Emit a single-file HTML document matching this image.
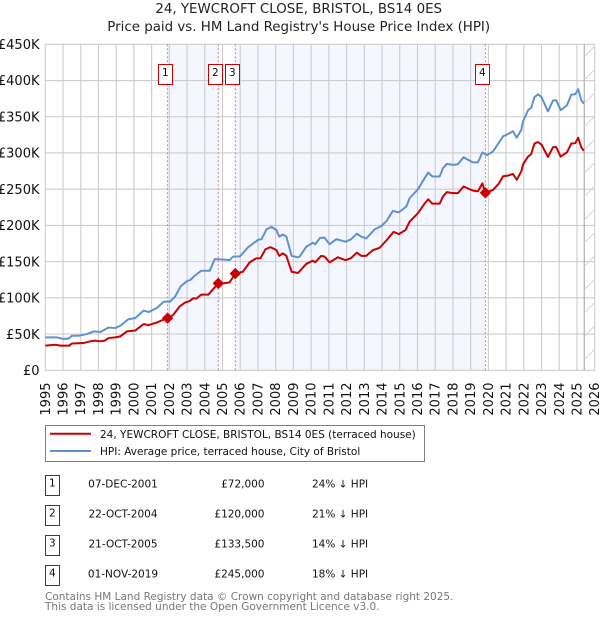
<!DOCTYPE html>
<html lang="en">
<head>
<meta charset="utf-8">
<title>24, Yewcroft Close price chart</title>
<style>
html,body{margin:0;padding:0;background:#fff;width:600px;height:620px;overflow:hidden}
svg{display:block;font-family:"DejaVu Sans","Liberation Sans",sans-serif}
</style>
</head>
<body>
<svg id="chart" xmlns="http://www.w3.org/2000/svg" width="600" height="620" viewBox="0 0 600 620">
  <defs>
    <pattern id="hatch" patternUnits="userSpaceOnUse" width="23.3" height="23.3" patternTransform="translate(11.8 0)">
      <line x1="-2" y1="25.3" x2="25.3" y2="-2" stroke="#d4d4d4" stroke-width="1"/>
    </pattern>
  </defs>
  <text x="298.7" y="13" font-size="13.4" text-anchor="middle" fill="#222">24, YEWCROFT CLOSE, BRISTOL, BS14 0ES</text>
  <text x="298.7" y="31" font-size="13.4" text-anchor="middle" fill="#222">Price paid vs. HM Land Registry's House Price Index (HPI)</text>
  <g id="bands"></g>
  <g id="grid"></g>
  <rect id="hatchRect" fill="url(#hatch)"></rect>
  <g id="saleLines"></g>
  <g id="axisLabels"></g>
  <g id="series"></g>
  <g id="markers"></g>

  <g>
    <rect x="45.5" y="425.5" width="379" height="36" fill="#fff" stroke="#808080" stroke-width="1"/>
    <line x1="50" x2="91" y1="433.8" y2="433.8" stroke="#cc0000" stroke-width="2"/>
    <text x="100" y="438" font-size="10.5" fill="#111">24, YEWCROFT CLOSE, BRISTOL, BS14 0ES (terraced house)</text>
    <line x1="50" x2="91" y1="451" y2="451" stroke="#6090d0" stroke-width="2"/>
    <text x="100" y="455" font-size="10.5" fill="#111">HPI: Average price, terraced house, City of Bristol</text>
  </g>

  <g font-size="10.5" fill="#111">
    <rect x="45.5" y="475.5" width="14" height="20" fill="#fff" stroke="#cc0000"/>
    <text x="52.3" y="486.5" text-anchor="middle">1</text>
    <text x="123" y="487.3" text-anchor="middle">07-DEC-2001</text>
    <text x="264.5" y="487.3" text-anchor="end">£72,000</text>
    <text x="312" y="487.3">24% ↓ HPI</text>

    <rect x="45.5" y="505.5" width="14" height="20" fill="#fff" stroke="#cc0000"/>
    <text x="52.3" y="516.5" text-anchor="middle">2</text>
    <text x="123" y="517.3" text-anchor="middle">22-OCT-2004</text>
    <text x="264.5" y="517.3" text-anchor="end">£120,000</text>
    <text x="312" y="517.3">21% ↓ HPI</text>

    <rect x="45.5" y="535.5" width="14" height="20" fill="#fff" stroke="#cc0000"/>
    <text x="52.3" y="546.5" text-anchor="middle">3</text>
    <text x="123" y="547.3" text-anchor="middle">21-OCT-2005</text>
    <text x="264.5" y="547.3" text-anchor="end">£133,500</text>
    <text x="312" y="547.3">14% ↓ HPI</text>

    <rect x="45.5" y="565.5" width="14" height="20" fill="#fff" stroke="#cc0000"/>
    <text x="52.3" y="576.5" text-anchor="middle">4</text>
    <text x="123" y="577.3" text-anchor="middle">01-NOV-2019</text>
    <text x="264.5" y="577.3" text-anchor="end">£245,000</text>
    <text x="312" y="577.3">18% ↓ HPI</text>
  </g>

  <text x="45" y="600" font-size="10.5" fill="#777">Contains HM Land Registry data © Crown copyright and database right 2025.</text>
  <text x="45" y="610" font-size="10.5" fill="#777">This data is licensed under the Open Government Licence v3.0.</text>
</svg>
<script>
const yearTicks = [1995,1996,1997,1998,1999,2000,2001,2002,2003,2004,2005,2006,2007,2008,2009,2010,2011,2012,2013,2014,2015,2016,2017,2018,2019,2020,2021,2022,2023,2024,2025,2026];
const valueTicks = [0,50,100,150,200,250,300,350,400,450];
const valueTickLabels = ['£0','£50K','£100K','£150K','£200K','£250K','£300K','£350K','£400K','£450K'];
const dataEndYear = 2025.41;
const saleYears = [2001.9,2004.76,2005.72,2019.83];
const salePrices = [72,120,133.5,245];
const saleLabels = ['1','2','3','4'];
const hpiYears = [1995,1995.66,1995.94,1996.3,1996.5,1996.88,1997.35,1997.73,1998.1,1998.57,1998.95,1999.23,1999.7,2000.08,2000.55,2000.83,2001.3,2001.67,2002.05,2002.33,2002.64,2003,2003.2,2003.4,2003.8,2004.28,2004.56,2005,2005.4,2005.6,2005.97,2006.45,2007,2007.2,2007.48,2007.76,2008.04,2008.2,2008.4,2008.6,2008.9,2009.26,2009.35,2009.73,2010.1,2010.23,2010.51,2010.76,2011.04,2011.42,2011.95,2012.26,2012.58,2012.83,2013.11,2013.58,2013.96,2014.27,2014.61,2014.95,2015.37,2015.56,2016.03,2016.4,2016.6,2016.84,2017.25,2017.44,2017.66,2018,2018.28,2018.6,2019.13,2019.41,2019.66,2019.92,2020.26,2020.83,2021.1,2021.39,2021.6,2021.86,2021.95,2022.24,2022.42,2022.6,2022.8,2023,2023.36,2023.65,2023.83,2024.08,2024.44,2024.68,2024.9,2025.07,2025.24,2025.38];
const hpiValues = [45.4,45.4,43.6,43.6,47.7,47.7,50,53.7,52.8,59,58.3,61.5,70.7,72,82.5,80.4,86,94.6,95,102,116,123,125,130,137.5,137.5,153.5,153,152,157,157,170,180,181,194.5,198,193.5,184.5,187.5,184.5,158,156,157,170.7,176,174,183,183,174,181,177.5,181,188.6,184.5,182,194.5,199,206.5,220,218,226,237.6,250,265,273,267.5,267.5,279,285,283.6,284.5,294,287,287,300.6,297,302,323,326,330,321,332,343,359,362.6,377,381,377,357.5,372.6,372.6,359,366,380.6,381,388,373,368];
const priceYears = [1995,1995.56,1995.85,1996.35,1996.5,1997.16,1997.54,1997.82,1998.1,1998.35,1998.57,1998.95,1999.23,1999.6,2000.08,2000.55,2000.83,2001.3,2001.58,2001.9,2002.2,2002.58,2002.87,2003.15,2003.34,2003.53,2003.8,2004.2,2004.47,2004.76,2005.03,2005.4,2005.72,2006.15,2006.53,2006.9,2007.14,2007.42,2007.7,2008.04,2008.2,2008.4,2008.6,2008.9,2009.26,2009.73,2010.1,2010.23,2010.57,2010.76,2011.04,2011.51,2011.95,2012.26,2012.58,2012.83,2013.11,2013.49,2013.86,2014.24,2014.65,2014.95,2015.33,2015.55,2016.03,2016.4,2016.6,2016.84,2017.25,2017.44,2017.66,2018,2018.28,2018.6,2019.13,2019.41,2019.66,2019.83,2020.26,2020.6,2020.83,2021.1,2021.39,2021.6,2021.86,2021.95,2022.24,2022.42,2022.6,2022.8,2023,2023.36,2023.65,2023.83,2024.08,2024.44,2024.68,2024.9,2025.07,2025.24,2025.38];
const priceValues = [34,35.3,34,34,37,37.6,40,41,40,41,44.5,45.4,46.8,53.7,55,63.8,62.4,66,69,72,76,88,93.4,95.7,99.4,99,104.4,104.4,112,120,120,121.4,133.5,136,149,154.5,154.5,167,170,166,158,161.5,158,136,134.3,147,151.3,149,158,157,149,156,152,155,162.4,158,158,166,169,179,191,188,193.7,205,217,230,236,230,230,240,246,244.5,244.5,253.7,248,247,258,245,249,258,267.8,268.7,271,263,274.7,284,295,298.6,313,315,311.5,294.5,308,308,295,301,313,313.5,321,308,303];

const svgNS = 'http://www.w3.org/2000/svg';
const plotLeft = 45.3, plotRight = 594.7, plotTop = 44.3, plotBottom = 370.3;
const xMin = yearTicks[0], xMax = yearTicks[yearTicks.length - 1];
const yMax = valueTicks[valueTicks.length - 1];
function xScale(year) { return plotLeft + (year - xMin) / (xMax - xMin) * (plotRight - plotLeft); }
function yScale(value) { return plotBottom - value / yMax * (plotBottom - plotTop); }
function make(tag, parentId) {
  const el = document.createElementNS(svgNS, tag);
  document.getElementById(parentId).appendChild(el);
  return el;
}
function set(el, attrs) { Object.keys(attrs).forEach(function (k) { el.setAttribute(k, attrs[k]); }); }

// shaded bands between alternating sales
for (let i = 0; i + 1 < saleYears.length; i += 2) {
  const band = make('rect', 'bands');
  
  
  set(band, {x: xScale(saleYears[i]), y: plotTop, width: xScale(saleYears[i + 1]) - xScale(saleYears[i]), height: plotBottom - plotTop, fill: '#f4f7ff'});
}

// grid lines and tick labels
yearTicks.forEach(function (yr) {
  const line = make('line', 'grid');
  
  
  set(line, {x1: xScale(yr), x2: xScale(yr), y1: plotTop, y2: plotBottom, stroke: '#cccccc', 'stroke-width': 1.1});
  const label = make('text', 'axisLabels');
  
  
  const lx = xScale(yr) + 4.5;
  set(label, {x: lx, y: 382.5, 'font-size': 13, 'text-anchor': 'end', fill: '#111', transform: 'rotate(-90 ' + lx + ' 382.5)'});
  label.textContent = String(yr);
});
valueTicks.forEach(function (v, i) {
  const line = make('line', 'grid');
  
  
  set(line, {x1: plotLeft, x2: plotRight, y1: yScale(v), y2: yScale(v), stroke: '#cccccc', 'stroke-width': 1.1});
  const label = make('text', 'axisLabels');
  
  
  set(label, {x: 39.5, y: yScale(v) + 4.7, 'font-size': 13, 'text-anchor': 'end', fill: '#111'});
  label.textContent = valueTickLabels[i];
});

// region after the last data point
const hatchRect = document.getElementById('hatchRect');
set(hatchRect, {x: xScale(dataEndYear), y: plotTop, width: plotRight - xScale(dataEndYear), height: plotBottom - plotTop});
const endLine = make('line', 'grid');


set(endLine, {x1: xScale(dataEndYear), x2: xScale(dataEndYear), y1: plotTop, y2: plotBottom, stroke: '#a8a8a8', 'stroke-width': 1.1});

// sale guide lines and numbered badges
saleYears.forEach(function (yr, i) {
  const guide = make('line', 'saleLines');
  
  
  set(guide, {x1: xScale(yr), x2: xScale(yr), y1: plotTop, y2: plotBottom, stroke: '#f07080', 'stroke-width': 1, 'stroke-dasharray': '2 2'});
  const badge = make('rect', 'saleLines');
  
  
  set(badge, {x: Math.round(xScale(yr) - 10) + 0.5, y: 64.5, width: 14, height: 20, fill: '#fff', stroke: '#cc0000', 'stroke-width': 1});
  const num = make('text', 'saleLines');
  
  
  set(num, {x: Math.round(xScale(yr) - 10) + 7.3, y: 76, 'font-size': 10.5, 'text-anchor': 'middle', fill: '#111'});
  num.textContent = saleLabels[i];
});

// series lines
function pathFrom(xs, ys) {
  return xs.map(function (yr, i) { return (i ? 'L' : 'M') + xScale(yr).toFixed(2) + ' ' + yScale(ys[i]).toFixed(2); }).join('');
}
const hpiLine = make('path', 'series');


set(hpiLine, {d: pathFrom(hpiYears, hpiValues), fill: 'none', stroke: '#6090d0', 'stroke-width': 2, 'stroke-linejoin': 'round'});
const priceLine = make('path', 'series');


set(priceLine, {d: pathFrom(priceYears, priceValues), fill: 'none', stroke: '#cc0000', 'stroke-width': 2, 'stroke-linejoin': 'round'});

// sale markers
saleYears.forEach(function (yr, i) {
  const cx = xScale(yr), cy = yScale(salePrices[i]), r = 4.6;
  const marker = make('polygon', 'markers');
  
  
  set(marker, {points: [cx - r, cy, cx, cy - r, cx + r, cy, cx, cy + r].join(' '), fill: '#cc0000', stroke: '#cc0000', 'stroke-width': 1.6, 'stroke-linejoin': 'round'});
});
</script>
</body>
</html>
